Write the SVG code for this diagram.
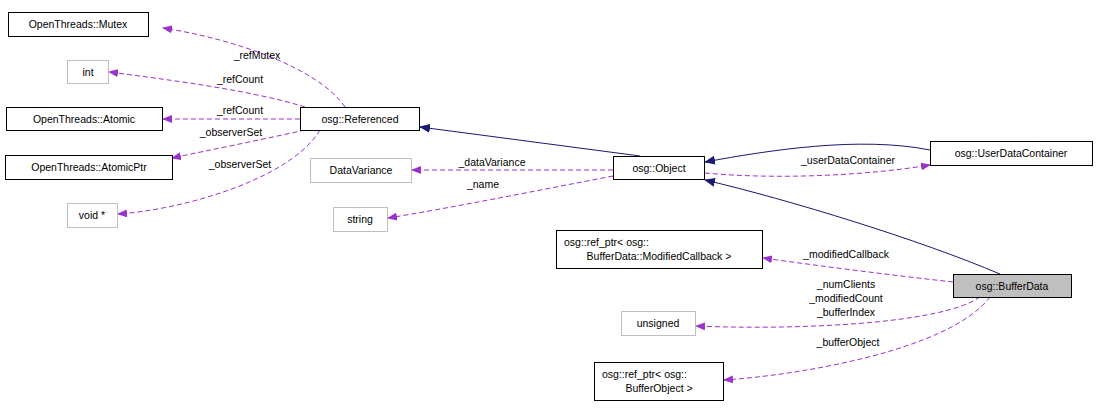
<svg xmlns="http://www.w3.org/2000/svg" width="1099" height="409" viewBox="0 0 1099 409">
<style>
text{font-family:"Liberation Sans",Arial,sans-serif;font-size:10.5px;fill:#000}
.n{fill:#fff;stroke:#000;stroke-width:1}
.g{fill:#fff;stroke:#bfbfbf;stroke-width:1}
.u{fill:none;stroke:#9a32cd;stroke-width:1;stroke-dasharray:5,3}
.i{fill:none;stroke:#191970;stroke-width:1}
.m{text-anchor:middle}
</style>
<defs>
<marker id="pa" markerWidth="10" markerHeight="8" refX="9" refY="4" orient="auto" markerUnits="userSpaceOnUse"><path d="M0,0L10,4L0,8z" fill="#9a32cd"/></marker>
<marker id="ia" markerWidth="11" markerHeight="9" refX="10" refY="4.5" orient="auto" markerUnits="userSpaceOnUse"><path d="M0,0L11,4.5L0,9z" fill="#191970"/></marker>
</defs>
<g id="connectors">
<path class="u" marker-end="url(#pa)" d="M345,107C320,70 240,40 163,28"/>
<path class="u" marker-end="url(#pa)" d="M305,107C250,90 170,80 109,72"/>
<path class="u" marker-end="url(#pa)" d="M300,119L163,119"/>
<path class="u" marker-end="url(#pa)" d="M305,130C260,140 210,150 172,158"/>
<path class="u" marker-end="url(#pa)" d="M320,130C290,180 180,210 118,214"/>
<path class="i" marker-end="url(#ia)" d="M640,156L420,127"/>
<path class="u" marker-end="url(#pa)" d="M613,170L412,170"/>
<path class="u" marker-end="url(#pa)" d="M613,176C540,190 450,208 388,218"/>
<path class="i" marker-end="url(#ia)" d="M930,150C860,136 770,150 705,162"/>
<path class="u" marker-end="url(#pa)" d="M705,173C780,180 870,175 930,165"/>
<path class="i" marker-end="url(#ia)" d="M1000,274C920,240 790,200 705,180"/>
<path class="u" marker-end="url(#pa)" d="M953,282C890,275 820,266 763,258"/>
<path class="u" marker-end="url(#pa)" d="M980,297C940,325 790,330 696,326"/>
<path class="u" marker-end="url(#pa)" d="M990,297C950,350 800,375 724,380"/>
<text class="m" x="257" y="59">_refMutex</text>
<text class="m" x="240" y="83">_refCount</text>
<text class="m" x="240" y="114">_refCount</text>
<text class="m" x="231" y="136">_observerSet</text>
<text class="m" x="240" y="168">_observerSet</text>
<text class="m" x="492" y="166">_dataVariance</text>
<text class="m" x="483" y="188">_name</text>
<text class="m" x="848" y="164">_userDataContainer</text>
<text class="m" x="846" y="258">_modifiedCallback</text>
<text class="m" x="846" y="288">_numClients</text>
<text class="m" x="846" y="302">_modifiedCount</text>
<text class="m" x="846" y="316">_bufferIndex</text>
<text class="m" x="848" y="346">_bufferObject</text>
</g>
<g id="mutex"><rect class="n" x="8.5" y="12.5" width="140" height="24"/><text class="m" x="78" y="28">OpenThreads::Mutex</text></g>
<g id="int"><rect class="g" x="67.5" y="60.5" width="41" height="23"/><text class="m" x="88" y="76">int</text></g>
<g id="atomic"><rect class="n" x="6.5" y="107.5" width="156" height="23"/><text class="m" x="84" y="123">OpenThreads::Atomic</text></g>
<g id="atomicptr"><rect class="n" x="5.5" y="155.5" width="167" height="24"/><text class="m" x="89" y="171">OpenThreads::AtomicPtr</text></g>
<g id="voidp"><rect class="g" x="67.5" y="203.5" width="50" height="24"/><text class="m" x="92" y="219">void *</text></g>
<g id="referenced"><rect class="n" x="300.5" y="107.5" width="119" height="23"/><text class="m" x="360" y="123">osg::Referenced</text></g>
<g id="datavariance"><rect class="g" x="310.5" y="158.5" width="101" height="24"/><text class="m" x="361" y="174">DataVariance</text></g>
<g id="string"><rect class="g" x="333.5" y="207.5" width="54" height="24"/><text class="m" x="360" y="223">string</text></g>
<g id="object"><rect class="n" x="613.5" y="156.5" width="91" height="23"/><text class="m" x="659" y="172">osg::Object</text></g>
<g id="udc"><rect class="n" x="930.5" y="141.5" width="162" height="24"/><text class="m" x="1011" y="157">osg::UserDataContainer</text></g>
<g id="modcb"><rect class="n" x="556.5" y="230.5" width="206" height="38"/><text x="564" y="246">osg::ref_ptr&lt; osg::</text><text class="m" x="659" y="260">BufferData::ModifiedCallback &gt;</text></g>
<g id="unsigned"><rect class="g" x="621.5" y="311.5" width="74" height="24"/><text class="m" x="658" y="327">unsigned</text></g>
<g id="bufobj"><rect class="n" x="594.5" y="362.5" width="129" height="38"/><text x="602" y="378">osg::ref_ptr&lt; osg::</text><text class="m" x="659" y="392">BufferObject &gt;</text></g>
<g id="bufferdata"><rect x="953.5" y="274.5" width="118" height="23" fill="#bfbfbf" stroke="#000"/><text class="m" x="1012" y="290">osg::BufferData</text></g>
</svg>
